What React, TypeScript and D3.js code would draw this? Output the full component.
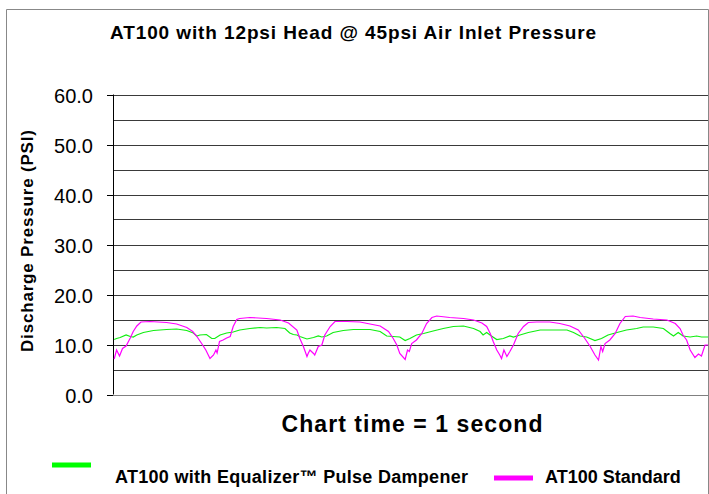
import { useMemo } from 'react';
import * as d3 from 'd3';

// time in seconds (chart spans 1 second), pressure in PSI
const standardTime = [
  0.002, 0.006, 0.011, 0.016, 0.022, 0.029, 0.034, 0.04, 0.047, 0.062, 0.09, 0.107, 0.124, 0.134,
  0.141, 0.149, 0.156, 0.163, 0.169, 0.173, 0.175, 0.179, 0.185, 0.191, 0.197, 0.202, 0.208, 0.213,
  0.23, 0.258, 0.281, 0.295, 0.309, 0.314, 0.32, 0.326, 0.328, 0.331, 0.337, 0.339, 0.345, 0.351,
  0.356, 0.365, 0.373, 0.393, 0.415, 0.432, 0.449, 0.463, 0.471, 0.477, 0.482, 0.491, 0.495, 0.498,
  0.502, 0.51, 0.519, 0.527, 0.536, 0.544, 0.566, 0.589, 0.606, 0.62, 0.628, 0.634, 0.639, 0.645,
  0.65, 0.653, 0.657, 0.662, 0.667, 0.673, 0.681, 0.69, 0.698, 0.712, 0.734, 0.751, 0.768, 0.782,
  0.793, 0.802, 0.81, 0.816, 0.82, 0.823, 0.827, 0.835, 0.844, 0.852, 0.861, 0.874, 0.886, 0.908,
  0.931, 0.945, 0.953, 0.958, 0.964, 0.97, 0.978, 0.984, 0.989, 0.995, 1.0,
];
const standardPsi = [
  7.1, 8.9, 7.7, 9.2, 9.7, 11.3, 12.6, 13.7, 14.5, 14.6, 14.4, 14.1, 13.4, 12.6,
  11.6, 10.2, 8.9, 7.2, 7.9, 8.9, 8.3, 10.6, 10.9, 11.3, 11.6, 13.6, 15.0, 15.2,
  15.4, 15.2, 14.9, 14.3, 12.9, 11.2, 9.6, 7.6, 8.2, 8.9, 8.2, 7.9, 9.6, 9.9,
  11.9, 13.6, 14.6, 14.6, 14.5, 14.1, 13.7, 12.6, 11.2, 9.9, 8.2, 7.0, 8.9, 8.6,
  10.2, 10.9, 12.2, 14.2, 15.4, 15.7, 15.4, 15.2, 14.9, 14.3, 13.6, 12.2, 10.6, 8.9,
  7.9, 7.2, 8.9, 7.6, 8.6, 9.9, 12.2, 13.6, 14.4, 14.5, 14.5, 14.2, 13.7, 12.9,
  11.2, 9.6, 7.9, 6.9, 9.6, 8.6, 10.2, 10.9, 12.2, 14.2, 15.6, 15.7, 15.4, 15.1,
  14.9, 14.2, 13.2, 11.9, 10.9, 8.9, 7.4, 8.1, 7.7, 9.9, 9.9,
];

const equalizerTime = [
  0.002, 0.006, 0.012, 0.022, 0.029, 0.034, 0.04, 0.051, 0.068, 0.09, 0.107, 0.124, 0.135, 0.141,
  0.146, 0.157, 0.166, 0.171, 0.18, 0.191, 0.202, 0.213, 0.23, 0.247, 0.258, 0.275, 0.289, 0.297,
  0.303, 0.309, 0.314, 0.326, 0.337, 0.345, 0.351, 0.359, 0.37, 0.387, 0.404, 0.432, 0.449, 0.46,
  0.471, 0.482, 0.491, 0.499, 0.51, 0.522, 0.538, 0.555, 0.572, 0.589, 0.606, 0.617, 0.622, 0.628,
  0.636, 0.645, 0.656, 0.667, 0.673, 0.684, 0.698, 0.718, 0.74, 0.763, 0.774, 0.785, 0.796, 0.81,
  0.821, 0.832, 0.847, 0.863, 0.88, 0.891, 0.908, 0.925, 0.936, 0.942, 0.95, 0.958, 0.97, 0.981,
  0.989, 1.0,
];
const equalizerPsi = [
  11.0, 11.2, 11.4, 11.9, 11.6, 11.5, 11.9, 12.4, 12.8, 13.0, 13.1, 12.8, 12.3, 11.7,
  11.9, 12.0, 11.2, 11.2, 11.9, 12.3, 12.5, 12.9, 13.2, 13.4, 13.3, 13.4, 13.2, 12.3,
  12.0, 11.9, 11.6, 11.1, 11.4, 11.7, 11.5, 11.7, 12.4, 12.8, 13.0, 13.0, 12.6, 11.7,
  11.6, 11.5, 10.8, 11.2, 11.9, 12.2, 12.7, 13.2, 13.6, 13.7, 13.2, 12.6, 11.9, 12.4,
  11.7, 11.0, 11.2, 11.7, 11.5, 11.9, 12.4, 12.9, 12.9, 12.9, 12.4, 11.7, 11.5, 10.8,
  11.2, 11.9, 12.4, 12.9, 13.2, 13.5, 13.5, 13.2, 12.2, 11.7, 12.4, 11.7, 11.5, 11.7,
  11.5, 11.5,
];

const gridValues = [0, 5, 10, 15, 20, 25, 30, 35, 40, 45, 50, 55, 60];
const tickValues = [0, 10, 20, 30, 40, 50, 60];

const chartTitle = 'AT100 with 12psi Head @ 45psi Air Inlet Pressure';
const xTitle = 'Chart time = 1 second';
const yTitle = 'Discharge Pressure (PSI)';
const equalizerLabel = 'AT100 with Equalizer\u2122  Pulse Dampener';
const standardLabel = 'AT100 Standard';

const font = '"Liberation Sans", Arial, Helvetica, sans-serif';

const W = 709;
const H = 494;
const plot = { left: 113, right: 708, top: 94.5, bottom: 394.5 };

export default function App() {
  const x = useMemo(() => d3.scaleLinear().domain([0, 1]).range([plot.left, plot.right]), []);
  const y = useMemo(() => d3.scaleLinear().domain([0, 60]).range([plot.bottom, plot.top]), []);
  const fmt = d3.format('.1f');

  const line = d3
    .line<[number, number]>()
    .x((d) => x(d[0]))
    .y((d) => y(d[1]));

  const equalizerPath = line(equalizerTime.map((t, i) => [t, equalizerPsi[i]]));
  const standardPath = line(standardTime.map((t, i) => [t, standardPsi[i]]));

  return (
    <svg
      width={W}
      height={H}
      style={{ position: 'absolute', left: 0, top: 0, background: '#fff' }}
      fontFamily={font}
    >
      <rect x={0} y={0} width={W} height={H} fill="#fff" />
      {/* outer chart frame */}
      <path d={`M6.5,${H} V9.5 H708.5 V${H}`} fill="none" stroke="#888" strokeWidth={1} />

      <text x={353} y={39} textAnchor="middle" fontSize={19} fontWeight="bold" textLength={486} lengthAdjust="spacing">
        {chartTitle}
      </text>

      {/* grid */}
      {gridValues.map((v) => (
        <line
          key={v}
          x1={plot.left}
          x2={plot.right}
          y1={Math.round(y(v)) + 0.5}
          y2={Math.round(y(v)) + 0.5}
          stroke={v === 0 ? '#808080' : '#3a3a3a'}
          strokeWidth={1}
        />
      ))}

      {/* y axis */}
      <line x1={plot.left + 0.5} x2={plot.left + 0.5} y1={plot.top} y2={plot.bottom} stroke="#000" />
      {tickValues.map((v) => (
        <g key={v} transform={`translate(0,${Math.round(y(v)) + 0.5})`}>
          <line x1={107} x2={plot.left} stroke="#000" />
          <text x={93} dy="0.36em" textAnchor="end" fontSize={20}>
            {fmt(v)}
          </text>
        </g>
      ))}

      <text
        transform="translate(33,241) rotate(-90)"
        textAnchor="middle"
        fontSize={17}
        fontWeight="bold"
        textLength={222}
        lengthAdjust="spacing"
      >
        {yTitle}
      </text>

      {/* series */}
      <path d={equalizerPath ?? ''} fill="none" stroke="#11ee11" strokeWidth={1.2} />
      <path d={standardPath ?? ''} fill="none" stroke="#ff00ff" strokeWidth={1.2} />

      <text x={412} y={432} textAnchor="middle" fontSize={23} fontWeight="bold" textLength={261} lengthAdjust="spacing">
        {xTitle}
      </text>

      {/* legend */}
      <line x1={52} x2={91} y1={465} y2={465} stroke="#00ff00" strokeWidth={5} />
      <text x={115} y={483} fontSize={18} fontWeight="bold" textLength={353} lengthAdjust="spacing">
        {equalizerLabel}
      </text>
      <line x1={494} x2={533} y1={478} y2={478} stroke="#ff00ff" strokeWidth={5} />
      <text x={545} y={483} fontSize={18} fontWeight="bold">
        {standardLabel}
      </text>
    </svg>
  );
}
